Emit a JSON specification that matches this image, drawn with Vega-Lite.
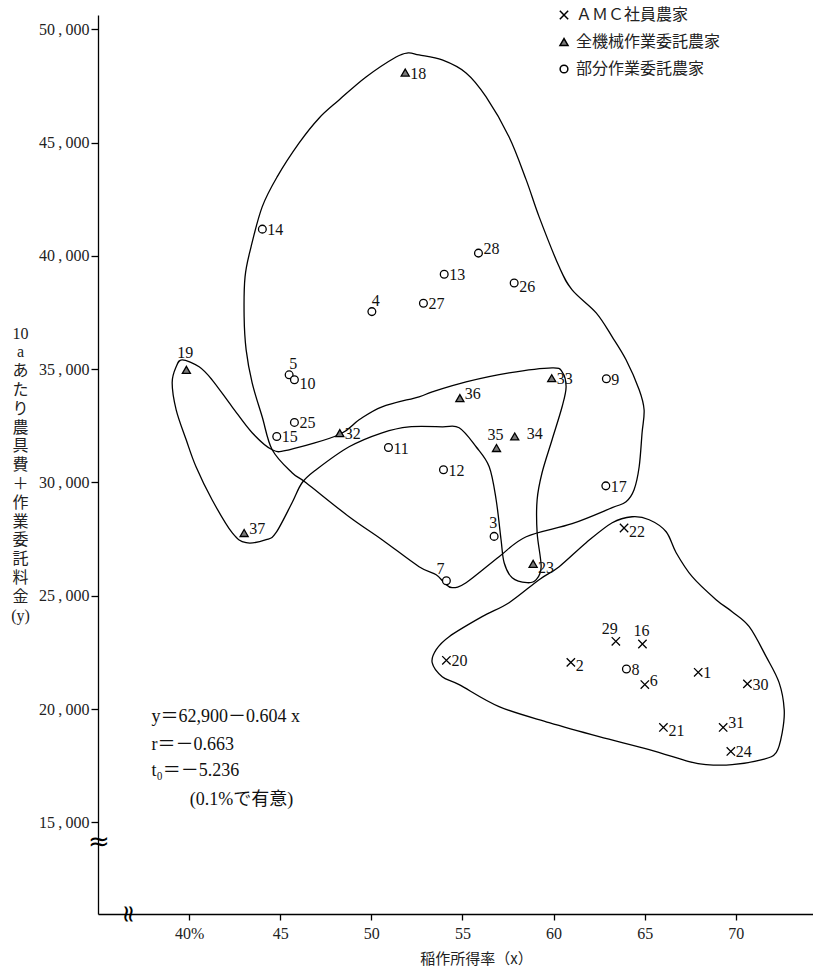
{
  "$schema": "https://vega.github.io/schema/vega-lite/v6.json",
  "width": 715,
  "height": 899,
  "autosize": {"type": "none"},
  "padding": {"left": 98, "top": 15, "right": 0, "bottom": 54},
  "background": "white",
  "config": {"view": {"stroke": null}, "font": "Liberation Serif, Noto Sans CJK JP"},
  "datasets": {
    "pts": [
      {"id": 1, "group": "ＡＭＣ社員農家", "x": 67.94, "y": 21620},
      {"id": 2, "group": "ＡＭＣ社員農家", "x": 60.95, "y": 22060},
      {"id": 6, "group": "ＡＭＣ社員農家", "x": 65.01, "y": 21080},
      {"id": 16, "group": "ＡＭＣ社員農家", "x": 64.88, "y": 22870},
      {"id": 20, "group": "ＡＭＣ社員農家", "x": 54.12, "y": 22150},
      {"id": 21, "group": "ＡＭＣ社員農家", "x": 66.03, "y": 19190},
      {"id": 22, "group": "ＡＭＣ社員農家", "x": 63.87, "y": 27990},
      {"id": 24, "group": "ＡＭＣ社員農家", "x": 69.73, "y": 18130},
      {"id": 29, "group": "ＡＭＣ社員農家", "x": 63.42, "y": 22990},
      {"id": 30, "group": "ＡＭＣ社員農家", "x": 70.64, "y": 21110},
      {"id": 31, "group": "ＡＭＣ社員農家", "x": 69.31, "y": 19190},
      {"id": 18, "group": "全機械作業委託農家", "x": 51.86, "y": 48090},
      {"id": 19, "group": "全機械作業委託農家", "x": 39.85, "y": 34970},
      {"id": 23, "group": "全機械作業委託農家", "x": 58.88, "y": 26410},
      {"id": 32, "group": "全機械作業委託農家", "x": 48.27, "y": 32180},
      {"id": 33, "group": "全機械作業委託農家", "x": 59.9, "y": 34600},
      {"id": 34, "group": "全機械作業委託農家", "x": 57.87, "y": 32030},
      {"id": 35, "group": "全機械作業委託農家", "x": 56.87, "y": 31520},
      {"id": 36, "group": "全機械作業委託農家", "x": 54.86, "y": 33720},
      {"id": 37, "group": "全機械作業委託農家", "x": 43.02, "y": 27770},
      {"id": 3, "group": "部分作業委託農家", "x": 56.74, "y": 27620},
      {"id": 4, "group": "部分作業委託農家", "x": 50.03, "y": 37540},
      {"id": 5, "group": "部分作業委託農家", "x": 45.49, "y": 34750},
      {"id": 7, "group": "部分作業委託農家", "x": 54.12, "y": 25660},
      {"id": 8, "group": "部分作業委託農家", "x": 64.0, "y": 21770},
      {"id": 9, "group": "部分作業委託農家", "x": 62.9, "y": 34580},
      {"id": 10, "group": "部分作業委託農家", "x": 45.78, "y": 34530},
      {"id": 11, "group": "部分作業委託農家", "x": 50.94, "y": 31540},
      {"id": 12, "group": "部分作業委託農家", "x": 53.96, "y": 30560},
      {"id": 13, "group": "部分作業委託農家", "x": 54.0, "y": 39190},
      {"id": 14, "group": "部分作業委託農家", "x": 44.02, "y": 41180},
      {"id": 15, "group": "部分作業委託農家", "x": 44.81, "y": 32030},
      {"id": 17, "group": "部分作業委託農家", "x": 62.87, "y": 29850},
      {"id": 25, "group": "部分作業委託農家", "x": 45.78, "y": 32650},
      {"id": 26, "group": "部分作業委託農家", "x": 57.84, "y": 38800},
      {"id": 27, "group": "部分作業委託農家", "x": 52.86, "y": 37910},
      {"id": 28, "group": "部分作業委託農家", "x": 55.88, "y": 40120}
    ],
    "curves": [
      {"c": "A", "i": 1, "x": 52.02, "y": 48955},
      {"c": "A", "i": 2, "x": 51.36, "y": 48778},
      {"c": "A", "i": 3, "x": 49.71, "y": 47896},
      {"c": "A", "i": 4, "x": 48.23, "y": 46881},
      {"c": "A", "i": 5, "x": 47.14, "y": 46087},
      {"c": "A", "i": 6, "x": 46.04, "y": 44985},
      {"c": "A", "i": 7, "x": 44.83, "y": 43485},
      {"c": "A", "i": 8, "x": 44.01, "y": 42162},
      {"c": "A", "i": 9, "x": 43.4, "y": 40397},
      {"c": "A", "i": 10, "x": 43.07, "y": 39074},
      {"c": "A", "i": 11, "x": 43.02, "y": 37310},
      {"c": "A", "i": 12, "x": 43.13, "y": 35854},
      {"c": "A", "i": 13, "x": 43.46, "y": 34398},
      {"c": "A", "i": 14, "x": 44.01, "y": 32899},
      {"c": "A", "i": 15, "x": 44.56, "y": 31443},
      {"c": "A", "i": 16, "x": 45.65, "y": 30428},
      {"c": "A", "i": 17, "x": 46.42, "y": 29987},
      {"c": "A", "i": 18, "x": 48.78, "y": 28487},
      {"c": "A", "i": 19, "x": 50.59, "y": 27473},
      {"c": "A", "i": 20, "x": 52.62, "y": 26282},
      {"c": "A", "i": 21, "x": 53.56, "y": 25929},
      {"c": "A", "i": 22, "x": 54.0, "y": 25576},
      {"c": "A", "i": 23, "x": 54.43, "y": 25356},
      {"c": "A", "i": 24, "x": 55.2, "y": 25576},
      {"c": "A", "i": 25, "x": 57.01, "y": 26723},
      {"c": "A", "i": 26, "x": 58.5, "y": 27605},
      {"c": "A", "i": 27, "x": 61.02, "y": 28179},
      {"c": "A", "i": 28, "x": 63.22, "y": 28885},
      {"c": "A", "i": 29, "x": 63.98, "y": 29149},
      {"c": "A", "i": 30, "x": 64.42, "y": 29678},
      {"c": "A", "i": 31, "x": 64.7, "y": 30693},
      {"c": "A", "i": 32, "x": 64.86, "y": 32193},
      {"c": "A", "i": 33, "x": 64.97, "y": 33207},
      {"c": "A", "i": 34, "x": 64.7, "y": 34090},
      {"c": "A", "i": 35, "x": 63.98, "y": 35413},
      {"c": "A", "i": 36, "x": 63.22, "y": 36427},
      {"c": "A", "i": 37, "x": 62.34, "y": 37486},
      {"c": "A", "i": 38, "x": 61.02, "y": 38500},
      {"c": "A", "i": 39, "x": 60.31, "y": 39515},
      {"c": "A", "i": 40, "x": 59.21, "y": 41721},
      {"c": "A", "i": 41, "x": 58.5, "y": 43353},
      {"c": "A", "i": 42, "x": 57.56, "y": 45249},
      {"c": "A", "i": 43, "x": 56.3, "y": 47014},
      {"c": "A", "i": 44, "x": 55.2, "y": 48072},
      {"c": "A", "i": 45, "x": 53.89, "y": 48646},
      {"c": "A", "i": 46, "x": 52.62, "y": 48866},
      {"c": "B", "i": 1, "x": 39.62, "y": 35413},
      {"c": "B", "i": 2, "x": 40.55, "y": 35104},
      {"c": "B", "i": 3, "x": 41.26, "y": 34531},
      {"c": "B", "i": 4, "x": 42.36, "y": 33340},
      {"c": "B", "i": 5, "x": 43.46, "y": 32193},
      {"c": "B", "i": 6, "x": 44.56, "y": 31443},
      {"c": "B", "i": 7, "x": 45.49, "y": 31443},
      {"c": "B", "i": 8, "x": 48.23, "y": 32105},
      {"c": "B", "i": 9, "x": 49.33, "y": 32766},
      {"c": "B", "i": 10, "x": 50.59, "y": 33340},
      {"c": "B", "i": 11, "x": 52.62, "y": 33781},
      {"c": "B", "i": 12, "x": 53.34, "y": 34001},
      {"c": "B", "i": 13, "x": 55.2, "y": 34442},
      {"c": "B", "i": 14, "x": 57.56, "y": 34839},
      {"c": "B", "i": 15, "x": 59.92, "y": 35060},
      {"c": "B", "i": 16, "x": 60.47, "y": 34883},
      {"c": "B", "i": 17, "x": 60.69, "y": 34222},
      {"c": "B", "i": 18, "x": 60.47, "y": 33340},
      {"c": "B", "i": 19, "x": 59.92, "y": 31884},
      {"c": "B", "i": 20, "x": 59.37, "y": 30428},
      {"c": "B", "i": 21, "x": 59.1, "y": 29237},
      {"c": "B", "i": 22, "x": 59.1, "y": 27782},
      {"c": "B", "i": 23, "x": 59.32, "y": 26282},
      {"c": "B", "i": 24, "x": 59.05, "y": 25709},
      {"c": "B", "i": 25, "x": 58.55, "y": 25576},
      {"c": "B", "i": 26, "x": 57.73, "y": 25797},
      {"c": "B", "i": 27, "x": 57.29, "y": 26459},
      {"c": "B", "i": 28, "x": 57.12, "y": 27473},
      {"c": "B", "i": 29, "x": 56.85, "y": 29237},
      {"c": "B", "i": 30, "x": 56.47, "y": 30693},
      {"c": "B", "i": 31, "x": 55.75, "y": 31575},
      {"c": "B", "i": 32, "x": 54.82, "y": 32413},
      {"c": "B", "i": 33, "x": 53.89, "y": 32457},
      {"c": "B", "i": 34, "x": 52.07, "y": 32457},
      {"c": "B", "i": 35, "x": 50.59, "y": 32193},
      {"c": "B", "i": 36, "x": 48.78, "y": 31575},
      {"c": "B", "i": 37, "x": 46.97, "y": 30561},
      {"c": "B", "i": 38, "x": 46.2, "y": 29987},
      {"c": "B", "i": 39, "x": 45.65, "y": 29105},
      {"c": "B", "i": 40, "x": 44.77, "y": 27782},
      {"c": "B", "i": 41, "x": 44.23, "y": 27473},
      {"c": "B", "i": 42, "x": 43.13, "y": 27341},
      {"c": "B", "i": 43, "x": 42.36, "y": 27782},
      {"c": "B", "i": 44, "x": 41.26, "y": 29237},
      {"c": "B", "i": 45, "x": 40.38, "y": 30693},
      {"c": "B", "i": 46, "x": 39.84, "y": 31884},
      {"c": "B", "i": 47, "x": 39.29, "y": 33207},
      {"c": "B", "i": 48, "x": 39.07, "y": 34398},
      {"c": "B", "i": 49, "x": 39.29, "y": 35104},
      {"c": "C", "i": 1, "x": 53.34, "y": 22047},
      {"c": "C", "i": 2, "x": 53.56, "y": 22621},
      {"c": "C", "i": 3, "x": 54.27, "y": 23194},
      {"c": "C", "i": 4, "x": 56.08, "y": 24077},
      {"c": "C", "i": 5, "x": 57.56, "y": 24694},
      {"c": "C", "i": 6, "x": 59.21, "y": 25709},
      {"c": "C", "i": 7, "x": 60.31, "y": 26282},
      {"c": "C", "i": 8, "x": 61.79, "y": 27341},
      {"c": "C", "i": 9, "x": 63.22, "y": 28223},
      {"c": "C", "i": 10, "x": 64.31, "y": 28487},
      {"c": "C", "i": 11, "x": 65.25, "y": 28355},
      {"c": "C", "i": 12, "x": 66.18, "y": 27826},
      {"c": "C", "i": 13, "x": 66.73, "y": 26900},
      {"c": "C", "i": 14, "x": 67.61, "y": 25841},
      {"c": "C", "i": 15, "x": 68.92, "y": 24826},
      {"c": "C", "i": 16, "x": 69.8, "y": 24297},
      {"c": "C", "i": 17, "x": 70.74, "y": 23635},
      {"c": "C", "i": 18, "x": 71.67, "y": 22312},
      {"c": "C", "i": 19, "x": 72.38, "y": 21165},
      {"c": "C", "i": 20, "x": 72.66, "y": 19974},
      {"c": "C", "i": 21, "x": 72.55, "y": 18960},
      {"c": "C", "i": 22, "x": 72.22, "y": 18077},
      {"c": "C", "i": 23, "x": 71.45, "y": 17769},
      {"c": "C", "i": 24, "x": 69.8, "y": 17548},
      {"c": "C", "i": 25, "x": 68.38, "y": 17548},
      {"c": "C", "i": 26, "x": 67.44, "y": 17681},
      {"c": "C", "i": 27, "x": 65.25, "y": 18210},
      {"c": "C", "i": 28, "x": 62.5, "y": 18783},
      {"c": "C", "i": 29, "x": 59.76, "y": 19401},
      {"c": "C", "i": 30, "x": 57.01, "y": 20107},
      {"c": "C", "i": 31, "x": 54.82, "y": 21077},
      {"c": "C", "i": 32, "x": 53.89, "y": 21430}
    ]
  },
  "layer": [
    {
      "data": {"name": "curves"},
      "mark": {"type": "line", "interpolate": "cardinal-closed", "stroke": "black", "strokeWidth": 1.3},
      "encoding": {
        "x": {"field": "x", "type": "quantitative", "scale": {"domain": [35, 74.24], "nice": false, "zero": false}},
        "y": {"field": "y", "type": "quantitative", "scale": {"domain": [10955, 50630], "nice": false, "zero": false}},
        "detail": {"field": "c", "type": "nominal"},
        "order": {"field": "i", "type": "quantitative"}
      }
    },
    {
      "data": {"name": "pts"},
      "mark": {"type": "point", "filled": true, "stroke": "black", "strokeWidth": 1.3, "opacity": 1},
      "encoding": {
        "x": {"field": "x", "type": "quantitative", "scale": {"domain": [35, 74.24], "nice": false, "zero": false},
          "axis": {"values": [40, 45, 50, 55, 60, 65, 70], "labelExpr": "datum.value == 40 ? '40%' : format(datum.value, 'd')", "grid": false,
            "domainColor": "black", "domainWidth": 1.3, "tickColor": "black", "tickSize": 6, "tickWidth": 1.3,
            "labelFontSize": 16, "labelFont": "Liberation Serif", "labelColor": "#222", "labelPadding": 5,
            "title": "稲作所得率（x）", "titleFont": "Noto Sans CJK JP", "titleFontSize": 15, "titleFontWeight": "normal", "titleColor": "#222",
            "titleX": 378, "titleY": 44, "titleAlign": "center", "titleBaseline": "middle"}},
        "y": {"field": "y", "type": "quantitative", "scale": {"domain": [10955, 50630], "nice": false, "zero": false},
          "axis": {"values": [15000, 20000, 25000, 30000, 35000, 40000, 45000, 50000], "labelExpr": "replace(format(datum.value, ','), ',', '\u2009,\u2009')", "grid": false,
            "domainColor": "black", "domainWidth": 1.3, "tickColor": "black", "tickSize": 7, "tickWidth": 1.3,
            "labelFontSize": 16, "labelFont": "Liberation Serif", "labelColor": "#222", "labelPadding": 2,
            "title": ["10", "a", "あ", "た", "り", "農", "具", "費", "＋", "作", "業", "委", "託", "料", "金", "(y)"],
            "titleFont": "Liberation Serif, Noto Sans CJK JP", "titleFontSize": 16, "titleFontWeight": "normal", "titleColor": "#222",
            "titleAngle": 0, "titleX": -78, "titleY": 310, "titleAlign": "center", "titleBaseline": "top", "titleLineHeight": 18.8}},
        "shape": {"field": "group", "type": "nominal",
          "scale": {"domain": ["ＡＭＣ社員農家", "全機械作業委託農家", "部分作業委託農家"], "range": ["M-1,-1L1,1M1,-1L-1,1", "triangle-up", "circle"]},
          "legend": {"title": null, "orient": "none", "legendX": 458, "legendY": -8, "labelFontSize": 16, "labelFont": "Noto Sans CJK JP", "labelColor": "#222",
            "rowPadding": 11, "labelOffset": 4, "padding": 0,
            "encode": {"symbols": {"update": {"stroke": {"value": "black"}, "strokeWidth": {"value": 1.3}, "opacity": {"value": 1},
              "size": {"signal": "datum.value === 'ＡＭＣ社員農家' ? 120 : datum.value === '全機械作業委託農家' ? 64 : 45"}}}}}},
        "fill": {"field": "group", "type": "nominal",
          "scale": {"domain": ["ＡＭＣ社員農家", "全機械作業委託農家", "部分作業委託農家"], "range": ["transparent", "#7a7a7a", "white"]},
          "legend": {"title": null, "orient": "none", "legendX": 458, "legendY": -8, "labelFontSize": 16, "labelFont": "Noto Sans CJK JP", "labelColor": "#222",
            "rowPadding": 11, "labelOffset": 4, "padding": 0,
            "encode": {"symbols": {"update": {"stroke": {"value": "black"}, "strokeWidth": {"value": 1.3}, "opacity": {"value": 1},
              "size": {"signal": "datum.value === 'ＡＭＣ社員農家' ? 120 : datum.value === '全機械作業委託農家' ? 64 : 45"}}}}}},
        "size": {"field": "group", "type": "nominal",
          "scale": {"domain": ["ＡＭＣ社員農家", "全機械作業委託農家", "部分作業委託農家"], "range": [70, 60, 40]},
          "legend": {"title": null, "orient": "none", "legendX": 458, "legendY": -8, "labelFontSize": 16, "labelFont": "Noto Sans CJK JP", "labelColor": "#222",
            "rowPadding": 11, "labelOffset": 4, "padding": 0,
            "encode": {"symbols": {"update": {"stroke": {"value": "black"}, "strokeWidth": {"value": 1.3}, "opacity": {"value": 1},
              "size": {"signal": "datum.value === 'ＡＭＣ社員農家' ? 120 : datum.value === '全機械作業委託農家' ? 64 : 45"}}}}}}
      }
    },
    {
      "data": {"name": "pts"},
      "transform": [{"filter": "indexof([18,14,13,27,25,15,11,33,9,12,17,20,1,30,24,8,32], datum.id) >= 0"}],
      "mark": {"type": "text", "align": "left", "baseline": "middle", "dx": 5, "dy": 1, "fontSize": 16, "font": "Liberation Serif", "color": "#111"},
      "encoding": {"x": {"field": "x", "type": "quantitative"}, "y": {"field": "y", "type": "quantitative"}, "text": {"field": "id", "type": "nominal"}}
    },
    {
      "data": {"name": "pts"},
      "transform": [{"filter": "indexof([2,21,22,26,10,23], datum.id) >= 0"}],
      "mark": {"type": "text", "align": "left", "baseline": "middle", "dx": 5, "dy": 4, "fontSize": 16, "font": "Liberation Serif", "color": "#111"},
      "encoding": {"x": {"field": "x", "type": "quantitative"}, "y": {"field": "y", "type": "quantitative"}, "text": {"field": "id", "type": "nominal"}}
    },
    {
      "data": {"name": "pts"},
      "transform": [{"filter": "indexof([6,31,36,37,28], datum.id) >= 0"}],
      "mark": {"type": "text", "align": "left", "baseline": "middle", "dx": 5, "dy": -4, "fontSize": 16, "font": "Liberation Serif", "color": "#111"},
      "encoding": {"x": {"field": "x", "type": "quantitative"}, "y": {"field": "y", "type": "quantitative"}, "text": {"field": "id", "type": "nominal"}}
    },
    {
      "data": {"name": "pts"},
      "transform": [{"filter": "datum.id == 34"}],
      "mark": {"type": "text", "align": "left", "baseline": "middle", "dx": 12, "dy": -2, "fontSize": 16, "font": "Liberation Serif", "color": "#111"},
      "encoding": {"x": {"field": "x", "type": "quantitative"}, "y": {"field": "y", "type": "quantitative"}, "text": {"field": "id", "type": "nominal"}}
    },
    {
      "data": {"name": "pts"},
      "transform": [{"filter": "indexof([35,16,3], datum.id) >= 0"}],
      "mark": {"type": "text", "align": "center", "baseline": "middle", "dx": -1, "dy": -13, "fontSize": 16, "font": "Liberation Serif", "color": "#111"},
      "encoding": {"x": {"field": "x", "type": "quantitative"}, "y": {"field": "y", "type": "quantitative"}, "text": {"field": "id", "type": "nominal"}}
    },
    {
      "data": {"name": "pts"},
      "transform": [{"filter": "datum.id == 19"}],
      "mark": {"type": "text", "align": "center", "baseline": "middle", "dx": -1, "dy": -17, "fontSize": 16, "font": "Liberation Serif", "color": "#111"},
      "encoding": {"x": {"field": "x", "type": "quantitative"}, "y": {"field": "y", "type": "quantitative"}, "text": {"field": "id", "type": "nominal"}}
    },
    {
      "data": {"name": "pts"},
      "transform": [{"filter": "indexof([29,7], datum.id) >= 0"}],
      "mark": {"type": "text", "align": "center", "baseline": "middle", "dx": -6, "dy": -12, "fontSize": 16, "font": "Liberation Serif", "color": "#111"},
      "encoding": {"x": {"field": "x", "type": "quantitative"}, "y": {"field": "y", "type": "quantitative"}, "text": {"field": "id", "type": "nominal"}}
    },
    {
      "data": {"name": "pts"},
      "transform": [{"filter": "indexof([4,5], datum.id) >= 0"}],
      "mark": {"type": "text", "align": "center", "baseline": "middle", "dx": 4, "dy": -11, "fontSize": 16, "font": "Liberation Serif", "color": "#111"},
      "encoding": {"x": {"field": "x", "type": "quantitative"}, "y": {"field": "y", "type": "quantitative"}, "text": {"field": "id", "type": "nominal"}}
    },
    {
      "data": {"values": [{}]},
      "mark": {"type": "text", "text": "y＝62,900－0.604 x", "align": "left", "baseline": "middle", "fontSize": 18, "color": "#111"},
      "encoding": {"x": {"datum": 37.93, "type": "quantitative"}, "y": {"datum": 19666, "type": "quantitative"}}
    },
    {
      "data": {"values": [{}]},
      "mark": {"type": "text", "text": "r＝－0.663", "align": "left", "baseline": "middle", "fontSize": 18, "color": "#111"},
      "encoding": {"x": {"datum": 37.93, "type": "quantitative"}, "y": {"datum": 18430, "type": "quantitative"}}
    },
    {
      "data": {"values": [{}]},
      "mark": {"type": "text", "text": "t₀＝－5.236", "align": "left", "baseline": "middle", "fontSize": 18, "color": "#111"},
      "encoding": {"x": {"datum": 37.93, "type": "quantitative"}, "y": {"datum": 17253, "type": "quantitative"}}
    },
    {
      "data": {"values": [{}]},
      "mark": {"type": "text", "text": "(0.1%で有意)", "align": "left", "baseline": "middle", "fontSize": 18, "color": "#111"},
      "encoding": {"x": {"datum": 40.03, "type": "quantitative"}, "y": {"datum": 16004, "type": "quantitative"}}
    },
    {
      "data": {"values": [{}]},
      "mark": {"type": "text", "text": "≈", "align": "center", "baseline": "middle", "fontSize": 26, "font": "DejaVu Sans", "color": "black"},
      "encoding": {"x": {"datum": 35.05, "type": "quantitative"}, "y": {"datum": 14150, "type": "quantitative"}}
    },
    {
      "data": {"values": [{}]},
      "mark": {"type": "text", "text": "≈", "align": "center", "baseline": "middle", "angle": 90, "fontSize": 24, "font": "DejaVu Sans", "color": "black"},
      "encoding": {"x": {"datum": 36.65, "type": "quantitative"}, "y": {"datum": 10955, "type": "quantitative"}}
    }
  ]
}
